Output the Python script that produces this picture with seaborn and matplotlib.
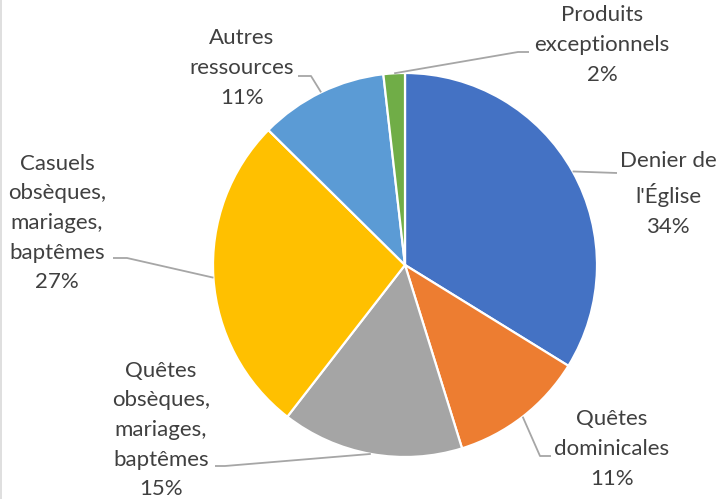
import numpy as np
import matplotlib
matplotlib.use("Agg")
import matplotlib.pyplot as plt
import seaborn as sns

# Data
labels = ["Denier de\nl'Église", "Quêtes\ndominicales", "Quêtes\nobsèques,\nmariages,\nbaptêmes",
          "Casuels\nobsèques,\nmariages,\nbaptêmes", "Autres\nressources", "Produits\nexceptionnels"]
values = [33.8, 11.4, 15.3, 26.9, 10.8, 1.8]
colors = ["#4472C4", "#ED7D31", "#A5A5A5", "#FFC000", "#5B9BD5", "#70AD47"]

# label layout in pixels (text centre) and leader line elbows
text_pos = [(668, 194), (612, 449), (161, 430), (57, 223), (242, 68), (602, 45)]
leader_pts = [[(617, 173)], [(540, 456), (551, 456)], [(225, 466), (215, 466)],
              [(127, 258), (113, 258)], [(311, 76), (298, 76)], [(518, 52), (529, 52)]]

sns.set_theme(style="white")
plt.rcParams['font.family'] = ['Lato', 'DejaVu Sans']

W, H = 719, 499
CX, CY, R = 405, 265, 192

def px(x, y):
    return (x - CX) / R, (CY - y) / R

fig = plt.figure(figsize=(W / 100, H / 100), dpi=100)
ax = fig.add_axes([0, 0, 1, 1])

wedges, _ = ax.pie(values, colors=colors, startangle=90, counterclock=False, radius=1,
                   wedgeprops=dict(edgecolor='white', linewidth=1.6))
ax.set_xlim(-CX / R, (W - CX) / R)
ax.set_ylim(-(H - CY) / R, CY / R)
ax.set_aspect('equal')
ax.axis('off')

total = sum(values)
cum = 0
for i, v in enumerate(values):
    mid = 90 - (cum + v / 2) / total * 360
    cum += v
    ex, ey = np.cos(np.radians(mid)), np.sin(np.radians(mid))
    pts = [(ex, ey)] + [px(*p) for p in leader_pts[i]]
    ax.plot([p[0] for p in pts], [p[1] for p in pts], color='#A6A6A6', lw=1.3,
            solid_capstyle='butt')
    pct = f"{round(v / total * 100):.0f}%"
    tx, ty = px(*text_pos[i])
    ax.text(tx, ty, labels[i] + "\n" + pct, ha='center', va='center', fontsize=16,
            color='#404040', linespacing=1.6, multialignment='center')

# faint left frame edge
fig.add_artist(plt.Line2D([0.001, 0.001], [0, 1], color='#D9D9D9', lw=1.2, transform=fig.transFigure))

fig.savefig("out.png", dpi=100)
